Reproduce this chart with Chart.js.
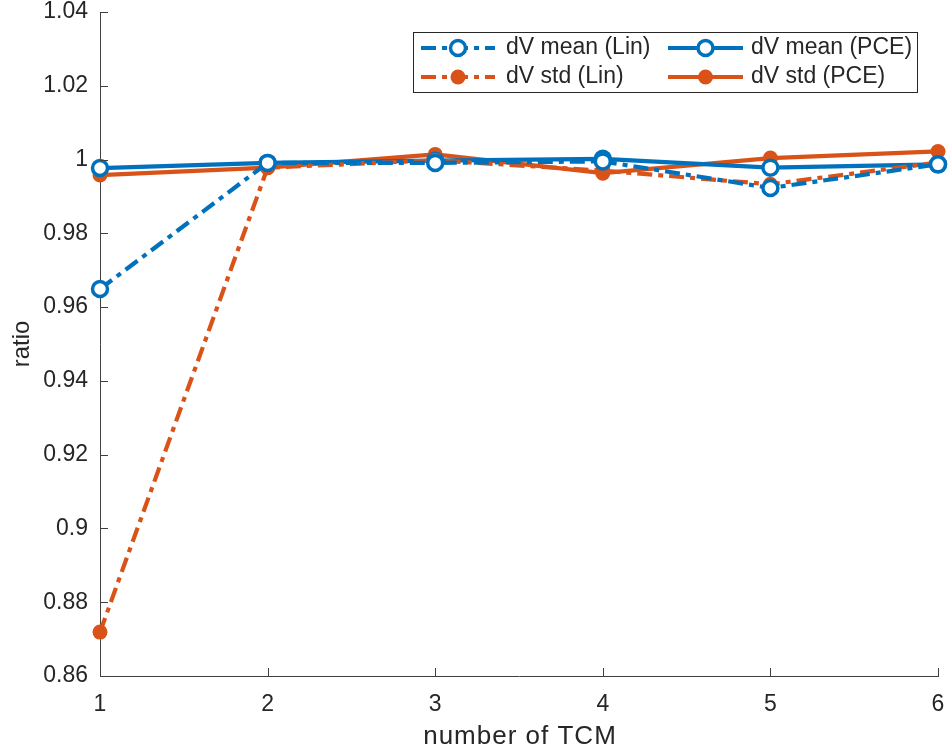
<!DOCTYPE html>
<html>
<head>
<meta charset="utf-8">
<script src="https://cdn.jsdelivr.net/npm/chart.js@4/dist/chart.umd.min.js"></script>
<style>
html,body{margin:0;padding:0;background:#fff;}
#wrap{position:relative;width:949px;height:751px;}
</style>
</head>
<body>
<div id="wrap"><canvas id="c" width="949" height="751"></canvas></div>
<script>
const categories = [1, 2, 3, 4, 5, 6];
const meanLin = [0.9649, 0.9991, 0.9991, 0.9995, 0.9923, 0.9987];
const meanPCE = [0.9977, 0.9991, 0.9997, 1.0002, 0.9978, 0.9987];
const stdLin  = [0.8719, 0.9978, 0.9998, 0.9970, 0.9933, 0.9992];
const stdPCE  = [0.9958, 0.9978, 1.0014, 0.9963, 1.0004, 1.0022];
const yTicks = [0.86, 0.88, 0.90, 0.92, 0.94, 0.96, 0.98, 1.00, 1.02, 1.04];
const seriesNames = ['dV mean (Lin)', 'dV mean (PCE)', 'dV std (Lin)', 'dV std (PCE)'];
const xTitle = 'number of TCM';
const yTitle = 'ratio';

const BLUE = '#0072BD', ORANGE = '#D95319', TXT = '#262626';
const FONT = '"Liberation Sans", Arial, sans-serif';
const DASH = [15, 6, 5, 6];

function pts(arr){ return categories.map((c,i)=>({x:c, y:arr[i]})); }

const datasets = [
  {label: seriesNames[0], data: pts(meanLin), borderColor: BLUE, borderDash: DASH,
   pointBorderWidth:3.5, pointBackgroundColor:'#fff', pointBorderColor:BLUE, filled:false},
  {label: seriesNames[2], data: pts(stdLin), borderColor: ORANGE, borderDash: DASH,
   pointBorderWidth:0, pointBackgroundColor:ORANGE, pointBorderColor:ORANGE, filled:true},
  {label: seriesNames[1], data: pts(meanPCE), borderColor: BLUE, borderDash: [],
   pointBorderWidth:3.5, pointBackgroundColor:'#fff', pointBorderColor:BLUE, filled:false},
  {label: seriesNames[3], data: pts(stdPCE), borderColor: ORANGE, borderDash: [],
   pointBorderWidth:0, pointBackgroundColor:ORANGE, pointBorderColor:ORANGE, filled:true}
];
datasets.forEach(d=>{ d.borderWidth=4.2; d.tension=0; d.clip=false; d.fill=false; d.pointStyle='circle'; d.pointRadius=7.5; d.backgroundColor=d.pointBackgroundColor; });

const inwardTicks = {
  id:'inwardTicks',
  afterDraw(chart){
    const ctx = chart.ctx, ca = chart.chartArea;
    const xs = chart.scales.x, ys = chart.scales.y;
    ctx.save();
    ctx.strokeStyle = '#404040'; ctx.lineWidth = 1;
    ctx.beginPath();
    yTicks.forEach(v=>{ const y = Math.round(ys.getPixelForValue(v))+0.5; ctx.moveTo(ca.left, y); ctx.lineTo(ca.left+8, y); });
    categories.forEach(v=>{ const x = Math.round(xs.getPixelForValue(v))+0.5; ctx.moveTo(x, ca.bottom); ctx.lineTo(x, ca.bottom-8); });
    ctx.stroke();
    // axis titles
    ctx.fillStyle = TXT;
    ctx.textAlign = 'center'; ctx.textBaseline = 'middle';
    ctx.font = '26px ' + FONT;
    try { ctx.letterSpacing = '1px'; } catch(e){}
    ctx.fillText(xTitle, (ca.left+ca.right)/2 + 1, 737);
    try { ctx.letterSpacing = '0px'; } catch(e){}
    ctx.save();
    ctx.translate(22, (ca.top+ca.bottom)/2);
    ctx.rotate(-Math.PI/2);
    ctx.font = '24px ' + FONT;
    ctx.fillText(yTitle, 0, 0);
    ctx.restore();
    ctx.restore();
  }
};

const boxLegend = {
  id:'boxLegend',
  afterDraw(chart){
    const ctx = chart.ctx;
    const L = 413, T = 32, R = 918, B = 93;
    ctx.save();
    ctx.fillStyle = '#fff'; ctx.fillRect(L, T, R-L, B-T);
    ctx.strokeStyle = '#262626'; ctx.lineWidth = 1;
    ctx.strokeRect(L+0.5, T+0.5, R-L-1, B-T-1);
    const cols = [{x0:421, x1:495, tx:506}, {x0:668, x1:743, tx:751}];
    const rows = [48, 77];
    const items = [
      {ds:0, col:0, row:0}, {ds:2, col:1, row:0},
      {ds:1, col:0, row:1}, {ds:3, col:1, row:1}
    ];
    items.forEach(it=>{
      const d = chart.data.datasets[it.ds];
      const c = cols[it.col], y = rows[it.row];
      ctx.setLineDash(d.borderDash || []);
      ctx.strokeStyle = d.borderColor; ctx.lineWidth = 4.2;
      ctx.beginPath(); ctx.moveTo(c.x0, y); ctx.lineTo(c.x1, y); ctx.stroke();
      ctx.setLineDash([]);
      const mx = (c.x0 + c.x1)/2;
      ctx.beginPath(); ctx.arc(mx, y, 7.5, 0, Math.PI*2);
      if (d.filled){ ctx.fillStyle = d.pointBackgroundColor; ctx.fill(); }
      else { ctx.fillStyle = '#fff'; ctx.fill(); ctx.lineWidth = 3.5; ctx.strokeStyle = d.pointBorderColor; ctx.stroke(); }
      ctx.fillStyle = TXT; ctx.font = '23px ' + FONT; ctx.textBaseline = 'middle'; ctx.textAlign = 'left';
      ctx.fillText(d.label, c.tx, y);
    });
    ctx.restore();
  }
};

new Chart(document.getElementById('c'), {
  type:'line',
  data:{ datasets },
  options:{
    responsive:false, animation:false, devicePixelRatio:1,
    layout:{ padding:{ left:0, right:6, top:12, bottom:0 } },
    plugins:{ legend:{display:false}, tooltip:{enabled:false} },
    scales:{
      x:{ type:'linear', min:1, max:6,
        afterBuildTicks(s){ s.ticks = categories.map(v=>({value:v})); },
        afterFit(s){ s.height = 75; s.paddingLeft = 0; s.paddingRight = 0; },
        grid:{ display:false, drawTicks:false },
        border:{ display:true, color:'#404040', width:1 },
        ticks:{ color:TXT, font:{family:FONT, size:23}, padding:15, maxRotation:0,
          callback:(v)=>String(v) },
        title:{ display:false }
      },
      y:{ type:'linear', min:0.86, max:1.04,
        afterBuildTicks(s){ s.ticks = yTicks.map(v=>({value:v})); },
        afterFit(s){ s.width = 100; s.paddingTop = 0; s.paddingBottom = 0; },
        grid:{ display:false, drawTicks:false },
        border:{ display:true, color:'#404040', width:1 },
        ticks:{ color:TXT, font:{family:FONT, size:23}, padding:12,
          callback:(v)=>String(parseFloat(v.toFixed(2))) },
        title:{ display:false }
      }
    }
  },
  plugins:[inwardTicks, boxLegend]
});
</script>
</body>
</html>
